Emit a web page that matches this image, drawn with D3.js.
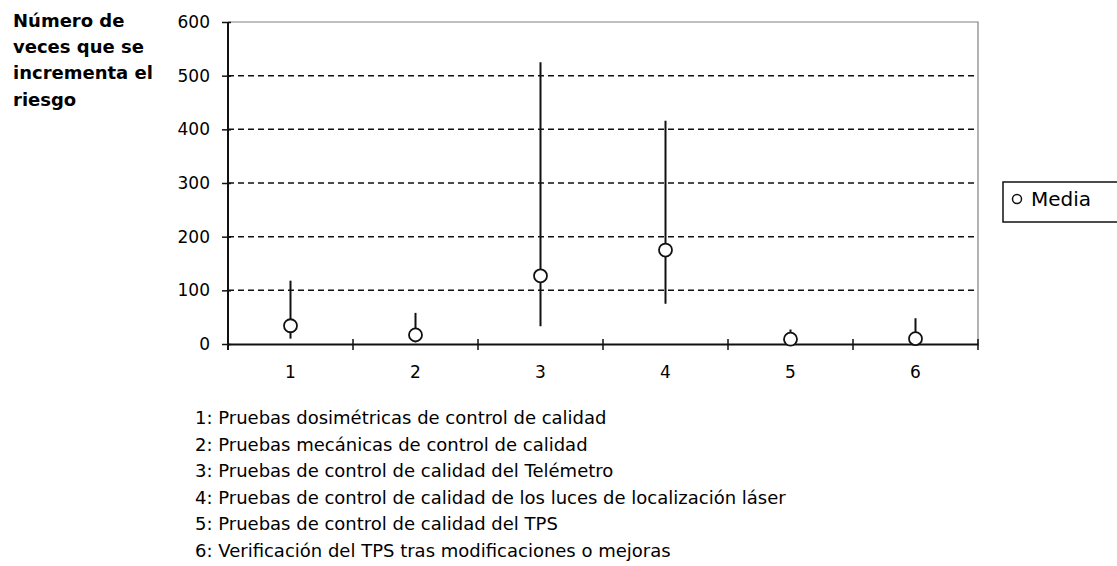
<!DOCTYPE html>
<html>
<head>
<meta charset="utf-8">
<script src="https://cdn.jsdelivr.net/npm/d3@7"></script>
<style>
  body { margin: 0; background: #fff; }
  svg { display: block; }
  text { font-family: "DejaVu Sans", sans-serif; fill: #000; }
</style>
</head>
<body>
<svg id="chart" width="1117" height="566"></svg>
<script>
// categories and values
const categories = ["1", "2", "3", "4", "5", "6"];
const meanValues = [34, 17, 127, 175, 9, 10];
const lowValues = [10, 3, 33, 75, 2, 2];
const highValues = [118, 58, 525, 416, 27, 48];
const yTicks = [0, 100, 200, 300, 400, 500, 600];
const yTitleLines = ["Número de", "veces que se", "incrementa el", "riesgo"];
const footnotes = [
  "1: Pruebas dosimétricas de control de calidad",
  "2: Pruebas mecánicas de control de calidad",
  "3: Pruebas de control de calidad del Telémetro",
  "4: Pruebas de control de calidad de los luces de localización láser",
  "5: Pruebas de control de calidad del TPS",
  "6: Verificación del TPS tras modificaciones o mejoras"
];
const legendLabel = "Media";

const svg = d3.select("#chart");
const plot = { left: 228, right: 978, top: 22, bottom: 344 };

const x = d3.scaleBand().domain(categories).range([plot.left, plot.right]).padding(0);
const y = d3.scaleLinear().domain([0, 600]).range([plot.bottom, plot.top]);

// dashed gridlines
svg.append("g")
  .selectAll("line")
  .data(yTicks.filter(d => d > 0 && d < 600))
  .join("line")
  .attr("x1", plot.left).attr("x2", plot.right)
  .attr("y1", d => y(d)).attr("y2", d => y(d))
  .attr("stroke", "#111").attr("stroke-width", 1.5)
  .attr("stroke-dasharray", "6,4");

// top and right border (grey)
svg.append("path")
  .attr("d", `M${plot.left},${y(600)}H${plot.right}V${plot.bottom}`)
  .attr("fill", "none").attr("stroke", "#808080").attr("stroke-width", 1.2);

// y axis
const yAxis = svg.append("g")
  .attr("transform", `translate(${plot.left},0)`)
  .call(d3.axisLeft(y).tickValues(yTicks).tickSize(6).tickPadding(12));
yAxis.select(".domain").attr("stroke", "#111").attr("stroke-width", 2)
  .attr("d", `M0,${y(600)}V${plot.bottom + 6}`);
yAxis.selectAll(".tick line").attr("stroke", "#111").attr("stroke-width", 1.5).attr("x1", 3);
yAxis.selectAll(".tick text").style("font-size", "17px").style("font-family", "DejaVu Sans");

// x axis with ticks between categories
const xAxis = svg.append("g")
  .attr("transform", `translate(0,${plot.bottom})`)
  .call(d3.axisBottom(x).tickSize(0).tickPadding(22));
xAxis.select(".domain").attr("stroke", "#111").attr("stroke-width", 2);
xAxis.selectAll(".tick text").style("font-size", "17px").style("font-family", "DejaVu Sans");
xAxis.append("g")
  .selectAll("line")
  .data(categories)
  .join("line")
  .attr("x1", d => x(d) + x.bandwidth()).attr("x2", d => x(d) + x.bandwidth())
  .attr("y1", -5).attr("y2", 6)
  .attr("stroke", "#111").attr("stroke-width", 1.5);

// whiskers
svg.append("g")
  .selectAll("line")
  .data(categories)
  .join("line")
  .attr("x1", d => x(d) + x.bandwidth() / 2).attr("x2", d => x(d) + x.bandwidth() / 2)
  .attr("y1", (d, i) => y(lowValues[i])).attr("y2", (d, i) => y(highValues[i]))
  .attr("stroke", "#111").attr("stroke-width", 2);

// mean markers
svg.append("g")
  .selectAll("circle")
  .data(categories)
  .join("circle")
  .attr("cx", d => x(d) + x.bandwidth() / 2)
  .attr("cy", (d, i) => y(meanValues[i]))
  .attr("r", 6.5)
  .attr("fill", "#fff").attr("stroke", "#111").attr("stroke-width", 1.8);

// y title
svg.append("g")
  .selectAll("text")
  .data(yTitleLines)
  .join("text")
  .attr("x", 13).attr("y", (d, i) => 27 + i * 26.2)
  .style("font-size", "18px").style("font-weight", "bold")
  .text(d => d);

// legend
const legend = svg.append("g").attr("transform", "translate(1003,182)");
legend.append("rect").attr("width", 130).attr("height", 40)
  .attr("fill", "#fff").attr("stroke", "#111").attr("stroke-width", 1.5);
legend.append("circle").attr("cx", 14).attr("cy", 17).attr("r", 4.5)
  .attr("fill", "#fff").attr("stroke", "#111").attr("stroke-width", 1.5);
legend.append("text").attr("x", 28).attr("y", 24)
  .style("font-size", "20px").text(legendLabel);

// footnotes
svg.append("g")
  .selectAll("text")
  .data(footnotes)
  .join("text")
  .attr("x", 195).attr("y", (d, i) => 424 + i * 26.5)
  .style("font-size", "18px")
  .text(d => d);
</script>
</body>
</html>
